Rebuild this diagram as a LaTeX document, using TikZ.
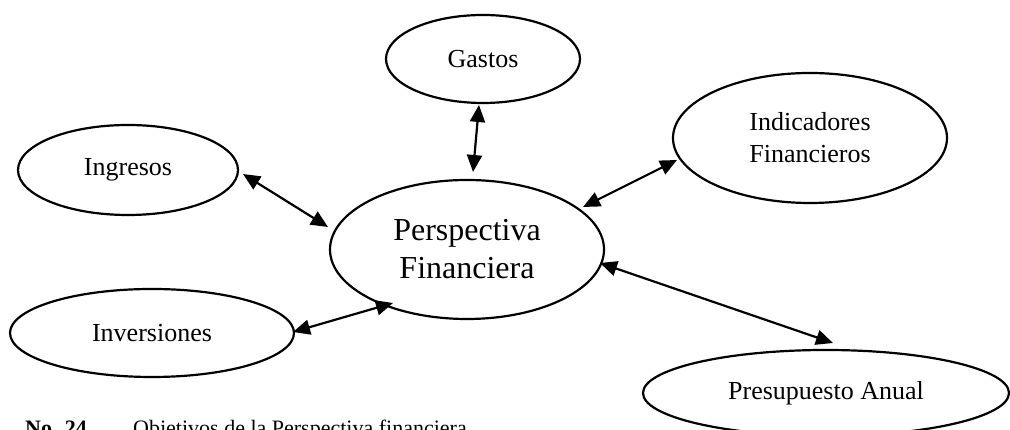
\documentclass[tikz,border=0pt]{standalone}
\usepackage{fontspec}
\setmainfont{Liberation Serif}
\usetikzlibrary{shapes.geometric,arrows.meta}
\begin{document}
\begin{tikzpicture}[x=1pt,y=1pt,
  bubble/.style={ellipse,draw,line width=2.2pt,inner sep=0pt,align=center,
    font=\fontsize{26}{32}\selectfont},
  link/.style={line width=2.2pt,{Triangle[length=17pt,width=15pt]}-{Triangle[length=17pt,width=15pt]}},
  capt/.style={anchor=base west,inner sep=0pt,font=\fontsize{22}{26}\selectfont}]
\useasboundingbox (0,0) rectangle (1010,430);

% outer concepts around the central one
\node[bubble,minimum width=194pt,minimum height=88pt] (gastos) at (483,371) {Gastos};
\node[bubble,minimum width=220pt,minimum height=90pt] (ingresos) at (128,260) {Ingresos};
\node[bubble,minimum width=274pt,minimum height=130pt] (indic) at (810,292) {Indicadores\\Financieros};
\node[bubble,minimum width=284pt,minimum height=88pt] (inver) at (152,97) {Inversiones};
\node[bubble,minimum width=366pt,minimum height=86pt] (presup) at (826,37) {Presupuesto Anual};

% central concept
\node[bubble,minimum width=274pt,minimum height=139pt,
  font=\fontsize{32}{38}\selectfont] (persp) at (467,180.5) {Perspectiva\\Financiera};

% two-way links
\draw[link] ([shift={(-4,-46)}]gastos.center) -- ([shift={(6,77.5)}]persp.center);
\draw[link] ([shift={(115,-4)}]ingresos.center) -- ([shift={(-139,22.5)}]persp.center);
\draw[link] ([shift={(-133,-22)}]indic.center) -- ([shift={(116,42.5)}]persp.center);
\draw[link] ([shift={(133,-13.5)}]persp.center) -- ([shift={(7,50)}]presup.center);
\draw[link] ([shift={(141,1)}]inver.center) -- ([shift={(-74,-53.5)}]persp.center);

% caption
\node[capt,font=\fontsize{22}{26}\selectfont\bfseries] (capnum) at (25,-6) {No. 24};
\node[capt] (captext) at (133,-6) {Objetivos de la Perspectiva financiera};
\end{tikzpicture}
\end{document}
